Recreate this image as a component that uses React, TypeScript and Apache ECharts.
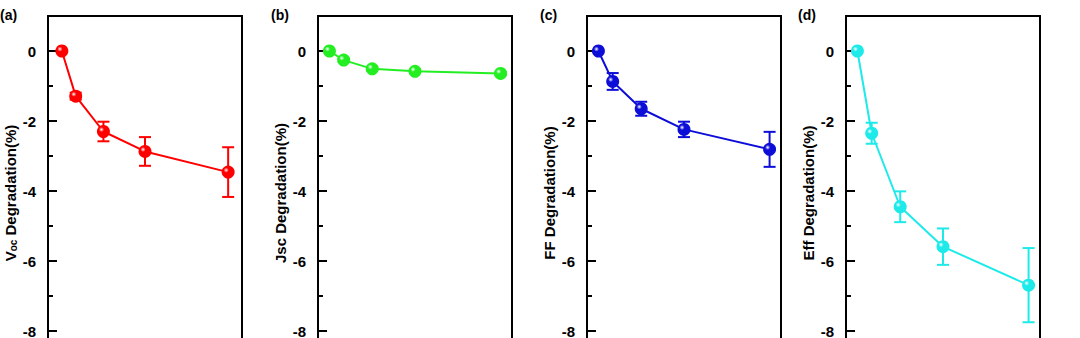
import React, { useEffect, useRef } from "react";
import * as echarts from "echarts";

const timePoints = [0, 1, 3, 6, 12];
const vocValues = [0, -1.29, -2.3, -2.87, -3.46];
const vocErrors = [0, 0.1, 0.28, 0.41, 0.71];
const jscValues = [0, -0.26, -0.51, -0.58, -0.64];
const jscErrors = [0, 0.05, 0.05, 0.05, 0.05];
const ffValues = [0, -0.87, -1.65, -2.24, -2.81];
const ffErrors = [0, 0.24, 0.2, 0.22, 0.5];
const effValues = [0, -2.35, -4.45, -5.59, -6.69];
const effErrors = [0, 0.3, 0.44, 0.52, 1.06];

const panelLabels = ["(a)", "(b)", "(c)", "(d)"];
const yTitles = ["{v|V}{s|oc}{t| Degradation(%)}", "{t|Jsc Degradation(%)}", "{t|FF Degradation(%)}", "{t|Eff Degradation(%)}"];
const colors = ["#ff0000", "#22ee22", "#0d0dd8", "#1eeaea"];

const FONT = "'Liberation Sans', Arial, Helvetica, sans-serif";

export default function App() {
  const ref = useRef<HTMLDivElement>(null);
  useEffect(() => {
    document.body.style.margin = "0";
    document.body.style.overflow = "hidden";
    const chart = echarts.init(ref.current!, null, { renderer: "svg" });
    const values = [vocValues, jscValues, ffValues, effValues];
    const errors = [vocErrors, jscErrors, ffErrors, effErrors];
    const lefts = [48, 318, 587, 846];
    const xRanges = [
      [-1, 13],
      [-0.8, 12.8],
      [-0.8, 12.8],
      [-0.8, 12.8],
    ];
    const titleX = [10, 280, 549, 808];
    const labelX = [0, 271, 540, 798];

    const grids: any[] = [];
    const xAxes: any[] = [];
    const yAxes: any[] = [];
    const series: any[] = [];
    const graphics: any[] = [];

    for (let i = 0; i < 4; i++) {
      grids.push({
        left: lefts[i],
        top: 16,
        width: 194,
        height: 385,
        show: true,
        borderColor: "#000",
        borderWidth: 2,
        backgroundColor: "transparent",
      });
      xAxes.push({
        type: "value",
        gridIndex: i,
        min: xRanges[i][0],
        max: xRanges[i][1],
        show: false,
      });
      // minor ticks axis (every unit)
      yAxes.push({
        type: "value",
        gridIndex: i,
        min: -10,
        max: 1,
        interval: 1,
        position: "left",
        axisLine: { show: true, onZero: false, lineStyle: { color: "#000", width: 2 } },
        axisTick: { show: true, inside: true, length: 5, lineStyle: { color: "#000", width: 2 } },
        axisLabel: { show: false },
        splitLine: { show: false },
      });
      // major ticks + labels
      yAxes.push({
        type: "value",
        gridIndex: i,
        min: -10,
        max: 1,
        interval: 2,
        position: "left",
        axisLine: { show: false, onZero: false },
        axisTick: { show: true, inside: true, length: 9, lineStyle: { color: "#000", width: 2 } },
        axisLabel: {
          show: true,
          margin: 12,
          color: "#000",
          fontSize: 15,
          fontWeight: "bold",
          fontFamily: FONT,
          formatter: (v: number) => (Math.abs(v % 2) < 1e-9 ? String(v) : ""),
        },
        splitLine: { show: false },
      });

      const c = colors[i];
      const errData = timePoints.map((t, k) => [t, values[i][k], errors[i][k]]);
      series.push({
        type: "custom",
        xAxisIndex: i,
        yAxisIndex: i * 2,
        z: 2,
        encode: { x: 0, y: 1 },
        data: errData,
        renderItem: (params: any, api: any) => {
          const x = api.value(0);
          const y = api.value(1);
          const e = api.value(2);
          if (!e) return { type: "group", children: [] };
          const top = api.coord([x, y + e]);
          const bot = api.coord([x, y - e]);
          const hw = 6;
          const st = { stroke: c, lineWidth: 2 };
          return {
            type: "group",
            children: [
              { type: "line", shape: { x1: top[0], y1: top[1], x2: bot[0], y2: bot[1] }, style: st },
              { type: "line", shape: { x1: top[0] - hw, y1: top[1], x2: top[0] + hw, y2: top[1] }, style: st },
              { type: "line", shape: { x1: bot[0] - hw, y1: bot[1], x2: bot[0] + hw, y2: bot[1] }, style: st },
            ],
          };
        },
      });
      series.push({
        type: "line",
        xAxisIndex: i,
        yAxisIndex: i * 2,
        z: 3,
        data: timePoints.map((t, k) => [t, values[i][k]]),
        symbol: "circle",
        symbolSize: 13,
        lineStyle: { color: c, width: 2 },
        itemStyle: {
          color: new echarts.graphic.RadialGradient(0.35, 0.35, 0.7, [
            { offset: 0, color: "#ffffff" },
            { offset: 0.28, color: c },
            { offset: 1, color: c },
          ]),
          borderWidth: 0,
        },
      });

      graphics.push({
        type: "text",
        x: titleX[i],
        y: 193,
        rotation: Math.PI / 2,
        style: {
          text: yTitles[i],
          align: "center",
          verticalAlign: "middle",
          fill: "#000",
          rich: {
            v: { fontSize: 15, fontWeight: "bold", fontFamily: FONT, fill: "#000", verticalAlign: "bottom", lineHeight: 16 },
            s: { fontSize: 10, fontWeight: "bold", fontFamily: FONT, fill: "#000", verticalAlign: "bottom", lineHeight: 12 },
            t: { fontSize: 15, fontWeight: "bold", fontFamily: FONT, fill: "#000", verticalAlign: "bottom", lineHeight: 16 },
          },
        },
      });
      graphics.push({
        type: "text",
        x: labelX[i],
        y: 15,
        style: {
          text: panelLabels[i],
          fontSize: 14,
          fontWeight: "bold",
          fontFamily: FONT,
          fill: "#000",
          align: "left",
          verticalAlign: "middle",
        },
      });
    }

    chart.setOption({
      animation: false,
      backgroundColor: "#ffffff",
      grid: grids,
      xAxis: xAxes,
      yAxis: yAxes,
      series,
      graphic: graphics,
    });
    return () => chart.dispose();
  }, []);
  return <div ref={ref} style={{ position: "absolute", left: 0, top: 0, width: 1080, height: 410 }} />;
}
